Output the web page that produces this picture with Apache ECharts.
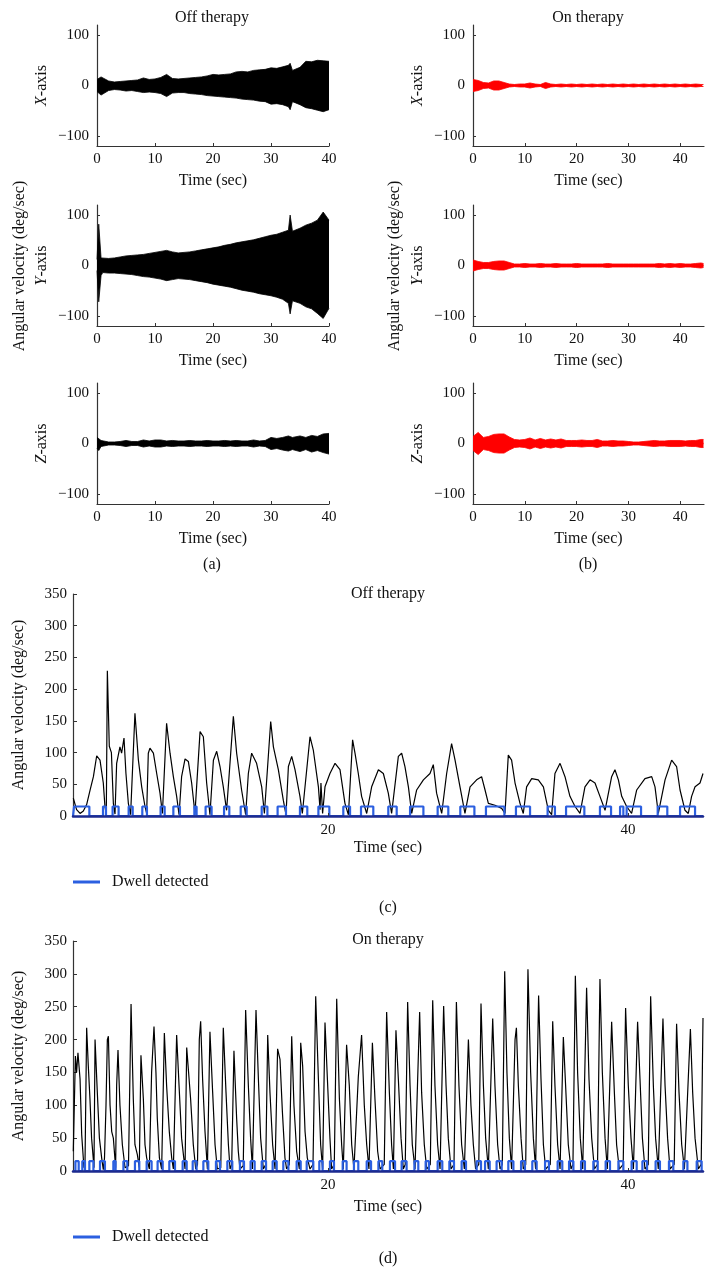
<!DOCTYPE html>
<html><head><meta charset="utf-8">
<script src="https://cdn.jsdelivr.net/npm/echarts@6/dist/echarts.min.js"></script>
<style>html,body{margin:0;padding:0;background:#fff}#c{width:715px;height:1278px}</style>
</head><body><div id="c"></div>
<script>
// ---------- DATA ----------
// (a) Off therapy, tremor envelopes (upper / lower), time grid in sec
const tOff = [0,0.3,0.7,1,2,3,4,5,6,7,8,9,10,11,12,13,14,15,16,17,18,19,20,21,22,23,24,25,26,27,28,29,30,31,32,33,33.3,33.7,34,35,36,37,38,39,40];
const offXUp = [12,14,17,16,9,7,8,9,10,11,15,12,13,16,22,14,13,14,15,16,17,19,22,21,22,23,27,28,27,30,31,32,35,34,37,40,44,30,32,36,48,47,50,49,48];
const offXLo = [-12,-15,-19,-20,-10,-8,-9,-11,-10,-12,-14,-13,-14,-16,-22,-15,-14,-14,-16,-17,-18,-20,-21,-22,-23,-24,-25,-27,-28,-29,-31,-32,-37,-36,-38,-42,-48,-32,-34,-38,-44,-46,-49,-52,-48];
const offYUp = [12,82,15,14,14,15,17,19,20,21,22,24,26,28,30,27,25,26,27,29,31,33,35,37,40,42,45,47,49,51,54,57,60,62,66,70,100,68,68,74,80,84,90,106,90];
const offYLo = [-10,-72,-20,-14,-15,-15,-16,-17,-18,-20,-22,-23,-25,-27,-30,-28,-26,-27,-28,-30,-32,-34,-37,-39,-41,-43,-46,-49,-51,-53,-56,-58,-60,-63,-67,-75,-96,-70,-70,-75,-82,-86,-95,-105,-85];
const offZUp = [12,14,6,4,3,3,4,6,4,4,7,5,7,7,5,6,5,5,6,5,5,6,5,5,6,5,6,5,5,7,5,6,12,10,12,15,13,12,14,15,12,16,14,19,20];
const offZLo = [-10,-14,-6,-4,-3,-3,-4,-6,-4,-4,-7,-5,-7,-7,-5,-6,-5,-5,-6,-5,-5,-6,-5,-5,-6,-5,-6,-5,-5,-7,-5,-6,-12,-10,-13,-15,-14,-12,-14,-16,-12,-17,-14,-18,-21];

// (b) On therapy, tremor envelope half-widths
const tOn = [0,1,2,3,4,5,6,7,8,9,10,11,12,13,14,15,16,17,18,19,20,21,22,23,24,25,26,27,28,29,30,31,32,33,34,35,36,37,38,39,40,41,42,43,44,44.5];
const onXAmp = [12,10,6,5,9,9,6,3,2,3,3,5,3,2,6,3,2,3,2,3,2,3,2,3,2,3,2,3,2,3,2,3,2,3,2,3,2,3,2,3,2,3,2,3,2,2];
const onYAmp = [11,8,6,6,8,9,9,6,3,3,4,3,3,4,3,3,4,3,3,3,4,3,3,3,3,3,4,3,3,3,3,3,3,3,3,3,4,3,4,3,4,3,3,4,5,4];
const onZAmp = [14,22,12,14,18,19,19,13,8,7,8,11,7,10,7,9,7,9,6,6,6,7,6,6,8,5,5,6,5,5,4,3,3,4,5,6,5,5,6,6,6,5,6,6,8,8];

// (c) Off therapy gait angular velocity
const gaitOffT = [3.02,3.24,3.47,3.69,3.91,4.13,4.36,4.58,4.8,5.02,5.13,5.22,5.29,5.42,5.56,5.69,5.8,
 5.91,6.13,6.24,6.4,6.53,6.69,6.84, 7.13,7.36,7.58,7.8,7.91, 8.02,8.13,8.36,8.58,8.8,8.96,
 9.24,9.47,9.69,9.91,10.07, 10.24,10.47,10.69,10.91,11.13, 11.47,11.69,11.91,12.13,
 12.36,12.58,12.8,13.02,13.24, 13.69,13.91,14.24,14.51, 14.69,14.91,15.24,15.58,15.76,
 16.18,16.36,16.69,17.02,17.2, 17.36,17.58,17.8,18.13,18.29, 18.8,19.02,19.36,19.47,19.53,19.64,
 19.8,20.13,20.47,20.8,21.13,21.36, 21.64,21.8,22.02,22.24,22.58, 22.91,23.36,23.69,24.02,24.24,
 24.69,24.91,25.13,25.36,25.58, 25.91,26.36,26.8,27.02,27.24,27.58, 27.91,28.24,28.47,28.8,29.13,
 29.47,29.91,30.24,30.47,30.69,31.13,31.58,31.8, 32.02,32.24,32.47,32.8,33.02,
 33.24,33.58,34.02,34.36,34.69,34.91, 35.13,35.47,35.8,36.13,36.47,36.8, 37.13,37.47,37.8,38.13,38.47,
 38.91,39.13,39.36,39.58,39.91,40.24, 40.58,41.13,41.58,41.8,42.02, 42.47,42.91,43.24,43.47,43.8,44.02,
 44.24,44.47,44.8,45];
const gaitOffV = [28,10,4,8,18,40,62,95,88,52,15,2,229,110,100,20,3,
 83,109,99,123,67,20,2, 162,88,46,15,4, 99,107,99,67,36,4,
 146,99,62,31,2, 62,90,86,52,4, 133,125,52,2,
 88,102,78,46,9, 157,99,41,2, 67,99,83,46,4,
 149,109,73,25,2, 78,94,73,31,4, 125,104,46,10,52,4,
 46,67,83,73,20,2, 120,99,67,31,4, 46,73,67,36,4,
 94,99,78,46,4, 41,57,67,81,36,4, 67,114,88,46,4,
 46,57,62,41,20,17,12,4, 96,88,52,20,4,
 46,59,57,46,9,2, 67,83,62,31,15,4, 46,57,52,31,9,
 62,73,57,31,15,4, 41,59,62,46,4, 57,88,78,41,9,4,
 31,46,52,67];
const dwellOffStart = [3.07,5.0,5.64,6.71,7.62,8.84,9.69,11.09,11.84,13.07,14.18,15.58,16.64,18.13,19.36,21.02,22.2,24.02,25.47,27.31,28.82,30.53,32.53,34.64,35.87,38.13,39.47,39.91,41.98,43.47];
const dwellOffEnd   = [4.09,5.2,6.04,6.98,7.93,9.11,10.13,11.24,12.24,13.42,14.58,15.96,17.2,18.62,20.09,21.47,23.02,24.58,26.36,28.02,29.76,31.76,33.47,35.13,37.09,38.87,39.69,40.87,42.62,44.47];

// (d) On therapy gait angular velocity
const gaitOnT = [3.02,3.16,3.24,3.33,3.47,3.58,3.73, 3.8,3.91,4.02,4.13,4.24,4.4, 4.47,4.62,4.76,4.91,5.02,
 5.1,5.2,5.29,5.36,5.47,5.58,5.69,5.84, 5.91,6.0,6.13,6.29,6.47, 6.7,6.87,7.02,7.13,7.29,7.42,
 7.53,7.69,7.8,7.91,8.09, 8.24,8.4,8.53,8.62,8.76,8.91, 9.09,9.24,9.42,9.58,9.69, 9.91,10.07,10.24,10.36,10.47,
 10.58,10.71,10.84,11.02,11.18, 11.3,11.42,11.51,11.64,11.8,11.96, 12.13,12.31,12.47,12.62,
 12.85,13.02,13.2,13.36,13.47, 13.58,13.73,13.91,14.02,14.13, 14.35,14.51,14.69,14.84,14.96,
 15.2,15.36,15.51,15.69, 15.85,15.98,16.13,16.31,16.47, 16.64,16.8,16.96,17.13,17.24,
 17.42,17.58,17.73,17.91,18.09, 18.18,18.31,18.47,18.62,18.8, 19.0,19.18,19.36,19.51,19.64,
 19.8,19.96,20.13,20.24, 20.42,20.58,20.76,20.91,21.02, 21.24,21.42,21.58,21.73,
 22.02,22.24,22.42,22.58,22.73, 22.96,23.13,23.31,23.47, 23.75,23.91,24.09,24.24,24.36,
 24.53,24.69,24.87,25.02, 25.15,25.31,25.47,25.62,25.8, 26.11,26.24,26.42,26.58,
 26.82,26.98,27.13,27.31,27.47, 27.71,27.87,28.02,28.2, 28.4,28.56,28.73,28.91,29.09,
 29.36,29.53,29.69,29.84, 30.05,30.2,30.36,30.51,30.69, 30.98,31.13,31.31,31.47,
 31.62,31.78,31.93,32.09,32.24, 32.47,32.56,32.69,32.87,33.02, 33.18,33.33,33.51,33.69,33.84,
 34.04,34.2,34.36,34.51, 34.82,34.98,35.13,35.31,35.47, 35.69,35.84,36.02,36.2,
 36.33,36.49,36.64,36.82,36.98, 37.24,37.4,37.58,37.76, 37.97,38.13,38.29,38.47,38.62,
 38.91,39.09,39.24,39.42, 39.68,39.84,40.02,40.2,40.36, 40.64,40.8,40.96,41.13,
 41.35,41.51,41.69,41.84,42.02, 42.33,42.47,42.64,42.8, 43.08,43.24,43.4,43.58,43.76,
 44.16,44.31,44.47,44.69, 44.88,45];
const gaitOnV = [30,175,150,180,140,55,5, 10,218,160,110,50,5, 200,120,50,20,2,
 20,100,200,205,100,60,50,5, 130,184,100,40,5, 8,254,110,40,25,5,
 176,110,40,20,3, 150,220,150,80,20,3, 210,130,60,20,3, 207,130,50,25,3,
 188,190,110,40,3, 10,200,228,140,60,3, 212,120,40,3,
 5,218,120,40,3, 10,183,80,30,3, 8,245,130,50,3,
 245,140,50,3, 10,207,120,40,3, 186,170,90,20,3,
 10,205,100,30,3, 195,160,60,20,3, 10,266,140,40,3,
 226,140,50,3, 10,262,110,40,3, 192,130,40,3,
 143,207,100,40,3, 195,110,30,3, 10,242,120,40,3,
 214,140,50,3, 10,257,130,40,3, 242,120,40,3,
 10,260,130,40,3, 251,130,50,3, 10,257,130,40,3,
 200,100,40,3, 10,255,130,50,3, 232,130,40,3,
 10,304,150,50,3, 200,218,130,50,3, 10,307,150,50,3,
 267,140,40,3, 10,228,130,40,3, 204,130,40,3,
 10,297,150,50,3, 279,140,50,3, 10,292,150,50,3,
 227,120,40,3, 10,248,130,50,3, 227,140,50,3,
 10,266,130,50,3, 232,130,50,3, 10,224,120,40,3,
 216,120,50,3, 10,233];
const dwellOnStart = [3.16,3.62,4.09,4.8,5.69,6.36,7.13,7.91,8.64,9.42,10.31,10.98,11.69,12.53,13.29,14.13,14.84,15.58,16.31,17.02,17.91,18.58,19.42,20.13,20.98,21.73,22.58,23.36,24.13,24.91,25.76,26.51,27.31,28.09,28.91,29.91,30.47,31.24,32.02,32.87,33.62,34.47,35.31,36.07,36.87,37.69,38.51,39.36,40.24,40.96,41.84,42.73,43.69,44.58];
const dwellOnEnd   = [3.38,3.8,4.36,5.13,5.84,6.62,7.42,8.24,8.98,9.8,10.58,11.24,12.02,12.8,13.62,14.4,15.11,15.87,16.58,17.36,18.18,19.02,19.64,20.4,21.24,22.02,22.87,23.62,24.47,25.24,26.02,26.73,27.62,28.4,29.2,30.2,30.78,31.58,32.36,33.13,33.91,34.73,35.62,36.36,37.13,37.98,38.8,39.69,40.58,41.27,42.13,43.02,43.96,44.91];
const dwellLevel = 15;

const smallTicksX = [0,10,20,30,40];
const smallTicksY = [-100,0,100];
const gaitTicksX = [20,40];

// ---------- BUILD ----------
const FONT = '"Liberation Serif","Times New Roman",serif';
const BLUE = '#2b5fe0';
const pairs = (T, V) => T.map((t, i) => [t, V[i]]);
function steps(S, E, lvl, x0, x1) {
  const d = [[x0, 0]];
  S.forEach((s, i) => { d.push([s, 0], [s, lvl], [E[i], lvl], [E[i], 0]); });
  d.push([x1, 0]);
  return d;
}
const grids = [], xAxes = [], yAxes = [], series = [];
const rowsTop = [25, 205, 383], rowH = 121;
const axisNames = ['X', 'Y', 'Z'];
function addSmall(col, row) {
  const gi = grids.length;
  const left = col === 0 ? 97 : 473;
  const width = col === 0 ? 232 : 231;
  grids.push({left, top: rowsTop[row], width, height: rowH, containLabel: false});
  xAxes.push({type: 'value', gridIndex: gi, min: 0, max: col === 0 ? 40 : 44.6,
    axisLine: {onZero: false, lineStyle: {color: '#333', width: 1.2}},
    axisTick: {inside: true, length: 3, customValues: smallTicksX, lineStyle: {color: '#333'}},
    axisLabel: {customValues: smallTicksX, fontFamily: FONT, fontSize: 15, color: '#111', margin: 6},
    splitLine: {show: false},
    name: 'Time (sec)', nameLocation: 'middle', nameGap: 27,
    nameTextStyle: {fontFamily: FONT, fontSize: 16, color: '#111'}});
  yAxes.push({type: 'value', gridIndex: gi, min: -120, max: 120,
    axisLine: {show: true, onZero: false, lineStyle: {color: '#333', width: 1.2}},
    axisTick: {show: true, inside: true, length: 3, customValues: smallTicksY, lineStyle: {color: '#333'}},
    axisLabel: {customValues: smallTicksY, fontFamily: FONT, fontSize: 15, color: '#111', margin: 8,
      formatter: v => String(v).replace('-', '\u2212')},
    splitLine: {show: false},
    name: '{i|' + axisNames[row] + '}-axis', nameLocation: 'middle', nameGap: 47,
    nameTextStyle: {fontFamily: FONT, fontSize: 16, color: '#111',
      rich: {i: {fontFamily: FONT, fontSize: 16, fontStyle: 'italic', color: '#111'}}}});
  return gi;
}
// band = upper envelope filled down past 0 + lower envelope filled up past 0 (overlap hides the seam)
function addBand(gi, T, U, L, color) {
  [[U, -1.5], [L, 1.5]].forEach(([V, org]) => {
    series.push({type: 'line', xAxisIndex: gi, yAxisIndex: gi, data: pairs(T, V),
      symbol: 'none', silent: true, lineStyle: {color, width: 0.8}, itemStyle: {color},
      areaStyle: {color, opacity: 1, origin: org}});
  });
}
const offSets = [[offXUp, offXLo], [offYUp, offYLo], [offZUp, offZLo]];
const onSets = [onXAmp, onYAmp, onZAmp];
for (let r = 0; r < 3; r++) {
  const g = addSmall(0, r);
  addBand(g, tOff, offSets[r][0], offSets[r][1], '#000');
}
for (let r = 0; r < 3; r++) {
  const g = addSmall(1, r);
  addBand(g, tOn, onSets[r], onSets[r].map(a => -a), '#ff0000');
}
function addGait(top, height, T, V, S, E, titleGap) {
  const gi = grids.length;
  grids.push({left: 73, top, width: 630, height});
  xAxes.push({type: 'value', gridIndex: gi, min: 3, max: 45, z: 10,
    axisLine: {onZero: false, lineStyle: {color: '#1c2a8e', width: 2.5}},
    axisTick: {inside: true, length: 3, customValues: gaitTicksX, lineStyle: {color: '#333'}},
    axisLabel: {customValues: gaitTicksX, fontFamily: FONT, fontSize: 15, color: '#111', margin: 7},
    splitLine: {show: false},
    name: 'Time (sec)', nameLocation: 'middle', nameGap: titleGap,
    nameTextStyle: {fontFamily: FONT, fontSize: 16, color: '#111'}});
  yAxes.push({type: 'value', gridIndex: gi, min: 0, max: 350, interval: 50,
    axisLine: {show: true, lineStyle: {color: '#333', width: 1.2}},
    axisTick: {show: true, inside: true, length: 4, lineStyle: {color: '#333'}},
    axisLabel: {fontFamily: FONT, fontSize: 15, color: '#111', margin: 6},
    splitLine: {show: false},
    name: 'Angular velocity (deg/sec)', nameLocation: 'middle', nameGap: 46,
    nameTextStyle: {fontFamily: FONT, fontSize: 16, color: '#111'}});
  series.push({type: 'line', xAxisIndex: gi, yAxisIndex: gi, data: pairs(T, V), symbol: 'none', silent: true,
    lineStyle: {color: '#000', width: 1.2}, z: 3});
  series.push({name: 'Dwell detected', type: 'line', xAxisIndex: gi, yAxisIndex: gi,
    data: steps(S, E, dwellLevel, 3, 45), symbol: 'none', silent: true,
    lineStyle: {color: BLUE, width: 2.2}, itemStyle: {color: BLUE}, z: 4});
}
addGait(594, 222, gaitOffT, gaitOffV, dwellOffStart, dwellOffEnd, 24);
addGait(941, 230, gaitOnT, gaitOnV, dwellOnStart, dwellOnEnd, 28);

function txt(x, y, text, rot) {
  return {type: 'text', x, y, rotation: rot || 0, silent: true,
    style: {text, fill: '#111', font: '16px ' + FONT, textAlign: 'center', textVerticalAlign: 'middle',
      align: 'center', verticalAlign: 'middle'}};
}
const legendBase = {left: 73, padding: 0, data: ['Dwell detected'], icon: 'rect', itemWidth: 27, itemHeight: 3,
  textStyle: {fontFamily: FONT, fontSize: 16, color: '#111', padding: [0, 0, 0, 7]}, selectedMode: false};
const option = {
  animation: false,
  backgroundColor: '#fff',
  grid: grids, xAxis: xAxes, yAxis: yAxes, series,
  legend: [Object.assign({top: 874}, legendBase), Object.assign({top: 1229}, legendBase)],
  graphic: [
    txt(212, 18, 'Off therapy'), txt(588, 18, 'On therapy'),
    txt(20, 266, 'Angular velocity (deg/sec)', Math.PI / 2),
    txt(395, 266, 'Angular velocity (deg/sec)', Math.PI / 2),
    txt(212, 565, '(a)'), txt(588, 565, '(b)'),
    txt(388, 594, 'Off therapy'), txt(388, 908, '(c)'),
    txt(388, 940, 'On therapy'), txt(388, 1259, '(d)')
  ]
};
const chart = echarts.init(document.getElementById('c'), null, {renderer: 'canvas'});
chart.setOption(option);
</script></body></html>
